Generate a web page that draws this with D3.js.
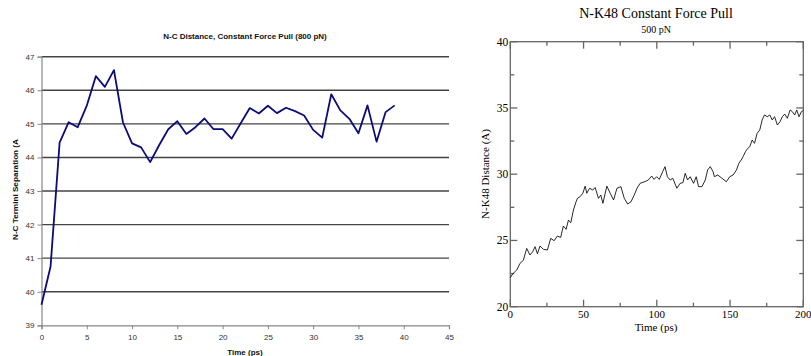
<!DOCTYPE html>
<html>
<head>
<meta charset="utf-8">
<script src="https://cdn.jsdelivr.net/npm/d3@7"></script>
<style>
  body { margin: 0; background: #fff; }
  svg { display: block; }
</style>
</head>
<body>
<svg id="chart" width="811" height="356"></svg>
<script>
// Left chart: N-C distance, 800 pN
const ncTime = [0, 1, 2, 3, 4, 5, 6, 7, 8, 9, 10, 11, 12, 13, 14, 15, 16, 17, 18, 19,
  20, 21, 22, 23, 24, 25, 26, 27, 28, 29, 30, 31, 32, 33, 34, 35, 36, 37, 38, 39];
const ncDist = [39.61, 40.75, 44.44, 45.05, 44.9, 45.54, 46.42, 46.1, 46.6, 45.04,
  44.42, 44.3, 43.86, 44.37, 44.84, 45.08, 44.7, 44.9, 45.16, 44.84,
  44.84, 44.56, 45.02, 45.47, 45.31, 45.54, 45.32, 45.48, 45.38, 45.25,
  44.82, 44.59, 45.88, 45.4, 45.15, 44.72, 45.55, 44.47, 45.35, 45.55];
const ncXTicks = [0, 5, 10, 15, 20, 25, 30, 35, 40, 45];
const ncYTicks = [39, 40, 41, 42, 43, 44, 45, 46, 47];

// Right chart: N-K48 distance, 500 pN
const nkTime = [0, 1.6, 4.4, 6.6, 8.9, 11.2, 13.4, 15.3, 16.9, 18.5, 20.3, 22.6, 25.3, 27.6,
  29.9, 32.1, 34.4, 36.2, 38.1, 39.7, 41.3, 43.1, 44.9, 45.8, 47.6, 49.5, 51.1, 52.2,
  54.1, 56.3, 57.9, 60.2, 61.8, 63.2, 65.9, 68.2, 70.5, 72.8, 75.5, 77.8, 80.1, 82.4,
  84.6, 86.5, 88.6, 91.9, 94.2, 96.5, 98.1, 99.9, 101.7, 104, 105.6, 107.2, 109.1,
  110.9, 113.7, 115.9, 117.8, 119.4, 121, 122.8, 125.1, 126.9, 128.5, 130.8, 133.1,
  134.7, 136.5, 138.4, 139.3, 141.6, 144.5, 147.5, 149.8, 152.1, 154.4, 156, 157.6,
  158.9, 160.5, 162.1, 163.5, 165.1, 166.7, 168.5, 170.3, 171.9, 173.5, 175.4, 177.2,
  178.8, 180.4, 182.3, 184.1, 185.7, 187.3, 189.1, 191, 192.5, 194.1, 195.5, 197.1,
  198.7, 200];
const nkDist = [22.19, 22.47, 22.77, 23.27, 23.5, 24.4, 23.9, 24.15, 24.53, 24.0, 24.58,
  24.33, 24.28, 25.16, 24.98, 25.33, 25.23, 26.09, 25.84, 26.54, 26.34, 27.3, 27.92,
  28.18, 28.3, 28.56, 29.1, 28.56, 28.94, 28.8, 29.0, 28.18, 28.43, 27.8, 29.1, 28.56,
  28.05, 28.94, 29.06, 28.18, 27.75, 27.92, 28.43, 28.94, 29.31, 29.44, 29.56, 29.86,
  29.61, 29.81, 29.61, 30.19, 30.57, 29.81, 29.56, 29.69, 28.94, 29.31, 29.36, 30.07,
  29.56, 29.81, 29.31, 29.81, 29.06, 29.06, 29.56, 30.32, 30.57, 30.19, 29.81, 29.94,
  29.69, 29.43, 29.81, 29.94, 30.32, 30.82, 31.07, 31.32, 31.7, 31.95, 32.08, 32.58,
  32.33, 33.09, 33.34, 34.09, 34.47, 34.34, 34.47, 34.09, 34.34, 33.71, 33.96, 34.34,
  34.54, 34.22, 34.85, 34.72, 34.47, 34.85, 34.34, 34.72, 34.8];
const nkXTicks = [0, 50, 100, 150, 200];
const nkXMinor = [25, 75, 125, 175];
const nkYTicks = [20, 25, 30, 35, 40];
const nkYMinor = [22.5, 27.5, 32.5, 37.5];

const svg = d3.select("#chart");

// ---------- left chart ----------
const L = { left: 41.5, right: 449, top: 56.7, bottom: 325.3 };
const lx = d3.scaleLinear().domain([0, 45]).range([L.left, L.right]);
const ly = d3.scaleLinear().domain([39, 47]).range([L.bottom, L.top]);
const lfont = "'Liberation Sans', Arial, sans-serif";

const left = svg.append("g").attr("class", "leftChart");

left.append("g")
  .selectAll("line")
  .data(ncYTicks.slice(1))
  .join("line")
  .attr("x1", L.left).attr("x2", L.right)
  .attr("y1", d => ly(d)).attr("y2", d => ly(d))
  .attr("stroke", "#444")
  .attr("stroke-width", 1.4);

const lyAxis = left.append("g")
  .attr("transform", `translate(${L.left},0)`)
  .call(d3.axisLeft(ly).tickValues(ncYTicks).tickSize(4).tickPadding(3));
const lxAxis = left.append("g")
  .attr("transform", `translate(0,${L.bottom})`)
  .call(d3.axisBottom(lx).tickValues(ncXTicks).tickSize(4).tickPadding(5));

[lyAxis, lxAxis].forEach(ax => {
  ax.select(".domain").attr("stroke", "#888").attr("stroke-width", 1.2);
  ax.selectAll(".tick line").attr("stroke", "#888");
  ax.selectAll(".tick text")
    .attr("font-family", lfont)
    .attr("font-size", 8)
    .attr("fill", "#333");
});

left.append("path")
  .datum(ncTime.map((t, i) => [t, ncDist[i]]))
  .attr("fill", "none")
  .attr("stroke", "#0b0b7a")
  .attr("stroke-width", 1.8)
  .attr("stroke-linejoin", "round")
  .attr("d", d3.line().x(d => lx(d[0])).y(d => ly(d[1])));

left.append("text")
  .attr("x", 245).attr("y", 39)
  .attr("text-anchor", "middle")
  .attr("font-family", lfont)
  .attr("font-weight", "bold")
  .attr("font-size", 8)
  .attr("fill", "#111")
  .text("N-C Distance, Constant Force Pull (800 pN)");

left.append("text")
  .attr("x", 245).attr("y", 355)
  .attr("text-anchor", "middle")
  .attr("font-family", lfont)
  .attr("font-weight", "bold")
  .attr("font-size", 8)
  .attr("fill", "#111")
  .text("Time (ps)");

left.append("text")
  .attr("transform", "translate(18,240) rotate(-90)")
  .attr("text-anchor", "start")
  .attr("font-family", lfont)
  .attr("font-weight", "bold")
  .attr("font-size", 8)
  .attr("textLength", 101)
  .attr("lengthAdjust", "spacingAndGlyphs")
  .attr("fill", "#111")
  .text("N-C Termini Separation (A");

// ---------- right chart ----------
const R = { left: 510.3, right: 803.3, top: 41.7, bottom: 306.7 };
const rx = d3.scaleLinear().domain([0, 200]).range([R.left, R.right]);
const ry = d3.scaleLinear().domain([20, 40]).range([R.bottom, R.top]);
const rfont = "'Liberation Serif', 'Times New Roman', serif";
const axisGrey = "#666";

const right = svg.append("g").attr("class", "rightChart");

right.append("rect")
  .attr("x", R.left).attr("y", R.top)
  .attr("width", R.right - R.left).attr("height", R.bottom - R.top)
  .attr("fill", "none")
  .attr("stroke", axisGrey)
  .attr("stroke-width", 1.3);

// inward ticks on all four sides
const tickSets = [
  { vals: nkXTicks, len: 7, horiz: true },
  { vals: nkXMinor, len: 4, horiz: true },
  { vals: nkYTicks, len: 7, horiz: false },
  { vals: nkYMinor, len: 4, horiz: false }
];
const ticks = right.append("g").attr("stroke", axisGrey).attr("stroke-width", 1.3);
tickSets.forEach(s => {
  if (s.horiz) {
    ticks.append("g").selectAll("line").data(s.vals).join("line")
      .attr("x1", d => rx(d)).attr("x2", d => rx(d))
      .attr("y1", R.bottom).attr("y2", R.bottom - s.len);
    ticks.append("g").selectAll("line").data(s.vals).join("line")
      .attr("x1", d => rx(d)).attr("x2", d => rx(d))
      .attr("y1", R.top).attr("y2", R.top + s.len);
  } else {
    ticks.append("g").selectAll("line").data(s.vals).join("line")
      .attr("y1", d => ry(d)).attr("y2", d => ry(d))
      .attr("x1", R.left).attr("x2", R.left + s.len);
    ticks.append("g").selectAll("line").data(s.vals).join("line")
      .attr("y1", d => ry(d)).attr("y2", d => ry(d))
      .attr("x1", R.right).attr("x2", R.right - s.len);
  }
});

right.append("g").selectAll("text").data(nkXTicks).join("text")
  .attr("x", d => rx(d)).attr("y", R.bottom + 11)
  .attr("text-anchor", "middle")
  .attr("font-family", rfont).attr("font-size", 11)
  .text(d => d);

right.append("g").selectAll("text").data(nkYTicks).join("text")
  .attr("x", R.left - 2).attr("y", d => ry(d) + 4)
  .attr("text-anchor", "end")
  .attr("font-family", rfont).attr("font-size", 11.5)
  .text(d => d);

right.append("path")
  .datum(nkTime.map((t, i) => [t, nkDist[i]]))
  .attr("fill", "none")
  .attr("stroke", "#111")
  .attr("stroke-width", 0.9)
  .attr("d", d3.line().x(d => rx(d[0])).y(d => ry(d[1])));

right.append("text")
  .attr("x", 656).attr("y", 18)
  .attr("text-anchor", "middle")
  .attr("font-family", rfont).attr("font-size", 14)
  .text("N-K48 Constant Force Pull");

right.append("text")
  .attr("x", 656).attr("y", 33)
  .attr("text-anchor", "middle")
  .attr("font-family", rfont).attr("font-size", 10)
  .text("500 pN");

right.append("text")
  .attr("x", 656).attr("y", 331)
  .attr("text-anchor", "middle")
  .attr("font-family", rfont).attr("font-size", 11)
  .text("Time (ps)");

right.append("text")
  .attr("transform", "translate(489,174) rotate(-90)")
  .attr("text-anchor", "middle")
  .attr("font-family", rfont).attr("font-size", 11)
  .text("N-K48 Distance (A)");
</script>
</body>
</html>
